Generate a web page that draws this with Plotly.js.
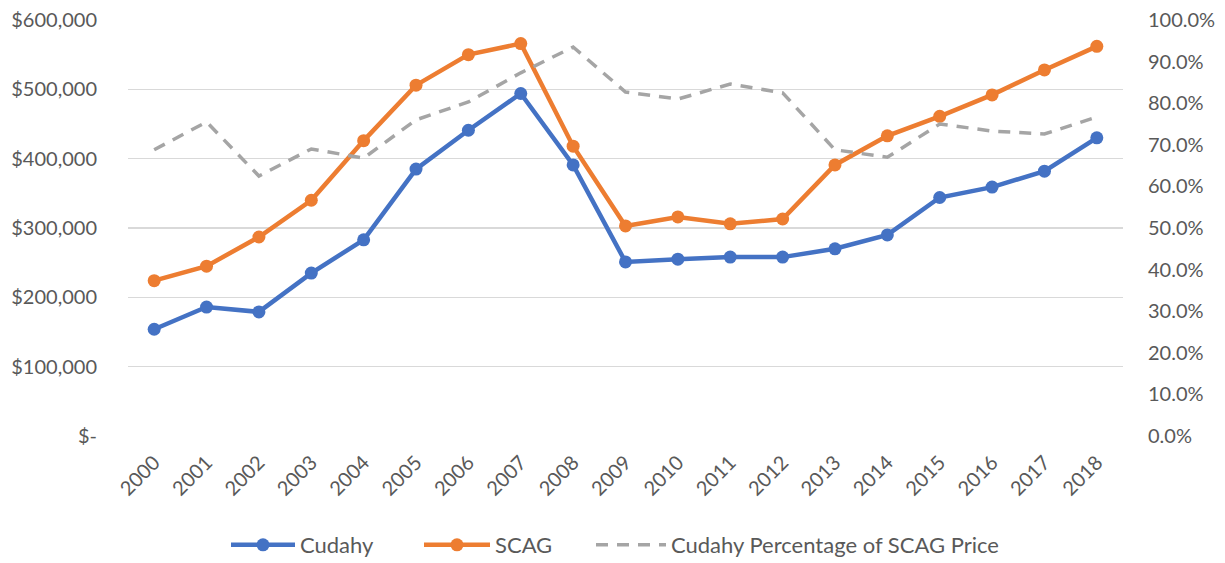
<!DOCTYPE html>
<html>
<head>
<meta charset="utf-8">
<script src="https://cdn.plot.ly/plotly-3.0.1.min.js"></script>
<style>html,body{margin:0;padding:0;background:#fff;}#chart{width:1225px;height:563px;}</style>
</head>
<body>
<div id="chart"></div>
<script>
const years = ['2000','2001','2002','2003','2004','2005','2006','2007','2008','2009','2010','2011','2012','2013','2014','2015','2016','2017','2018'];
const cudahy = [154000,186000,179000,235000,283000,385000,441000,494000,391000,251000,255000,258000,258000,270000,290000,344000,359000,382000,430000];
const scag = [224000,245000,287000,340000,426000,506000,550000,566000,418000,303000,316000,306000,313000,391000,433000,461000,492000,528000,562000];
const pctOfScag = [0.688,0.755,0.625,0.690,0.668,0.760,0.803,0.873,0.935,0.827,0.810,0.846,0.825,0.688,0.670,0.750,0.733,0.726,0.767];
const leftTickVals = [0,100000,200000,300000,400000,500000,600000];
const leftTickText = ['$-','$100,000','$200,000','$300,000','$400,000','$500,000','$600,000'];
const rightTickVals = [0,0.1,0.2,0.3,0.4,0.5,0.6,0.7,0.8,0.9,1.0];

const font = {family: 'Lato, "Open Sans", sans-serif', size: 20, color: '#595959'};
const legendFont = {family: 'Lato, "Open Sans", sans-serif', size: 22, color: '#595959'};

const traces = [
  {x: years, y: cudahy, name: 'Cudahy', type: 'scatter', mode: 'lines+markers', legend: 'legend',
   line: {color: '#4472C4', width: 4.5}, marker: {color: '#4472C4', size: 13}},
  {x: years, y: scag, name: 'SCAG', type: 'scatter', mode: 'lines+markers', legend: 'legend2',
   line: {color: '#ED7D31', width: 4.5}, marker: {color: '#ED7D31', size: 13}},
  {x: years, y: pctOfScag, name: 'Cudahy Percentage of SCAG Price', type: 'scatter', mode: 'lines',
   legend: 'legend3', yaxis: 'y2', line: {color: '#A5A5A5', width: 3.5, dash: '12px,9px'}}
];

function legendAt(xpx, iw) {
  return {orientation: 'h', x: xpx / 1225, xanchor: 'left', xref: 'container',
          y: 0.032, yanchor: 'middle', yref: 'container',
          font: legendFont, itemwidth: iw, bgcolor: 'rgba(0,0,0,0)'};
}

const layout = {
  width: 1225, height: 563,
  margin: {l: 128, r: 102, t: 20, b: 127, autoexpand: false},
  paper_bgcolor: '#fff', plot_bgcolor: '#fff',
  font: font,
  showlegend: true,
  legend: legendAt(226, 64),
  legend2: legendAt(419, 66),
  legend3: legendAt(591, 70),
  xaxis: {type: 'category', range: [-0.5, 18.5], tickangle: -45, showgrid: false, automargin: false,
          zeroline: false, showline: false, ticks: 'outside', ticklen: 6, tickcolor: 'rgba(0,0,0,0)',
          tickfont: font, fixedrange: true},
  yaxis: {range: [0, 600000], tickvals: leftTickVals, ticktext: leftTickText, showgrid: true, automargin: false,
          gridcolor: '#D9D9D9', gridwidth: 1.3, zeroline: false, showline: false,
          ticks: 'outside', ticklen: 26, tickcolor: 'rgba(0,0,0,0)', tickfont: font},
  yaxis2: {range: [0, 1], tickvals: rightTickVals, tickformat: '.1%', overlaying: 'y', side: 'right', automargin: false,
           showgrid: false, zeroline: false, showline: false,
           ticks: 'outside', ticklen: 20, tickcolor: 'rgba(0,0,0,0)', tickfont: font}
};

Plotly.newPlot('chart', traces, layout, {displayModeBar: false, staticPlot: true});
</script>
</body>
</html>
